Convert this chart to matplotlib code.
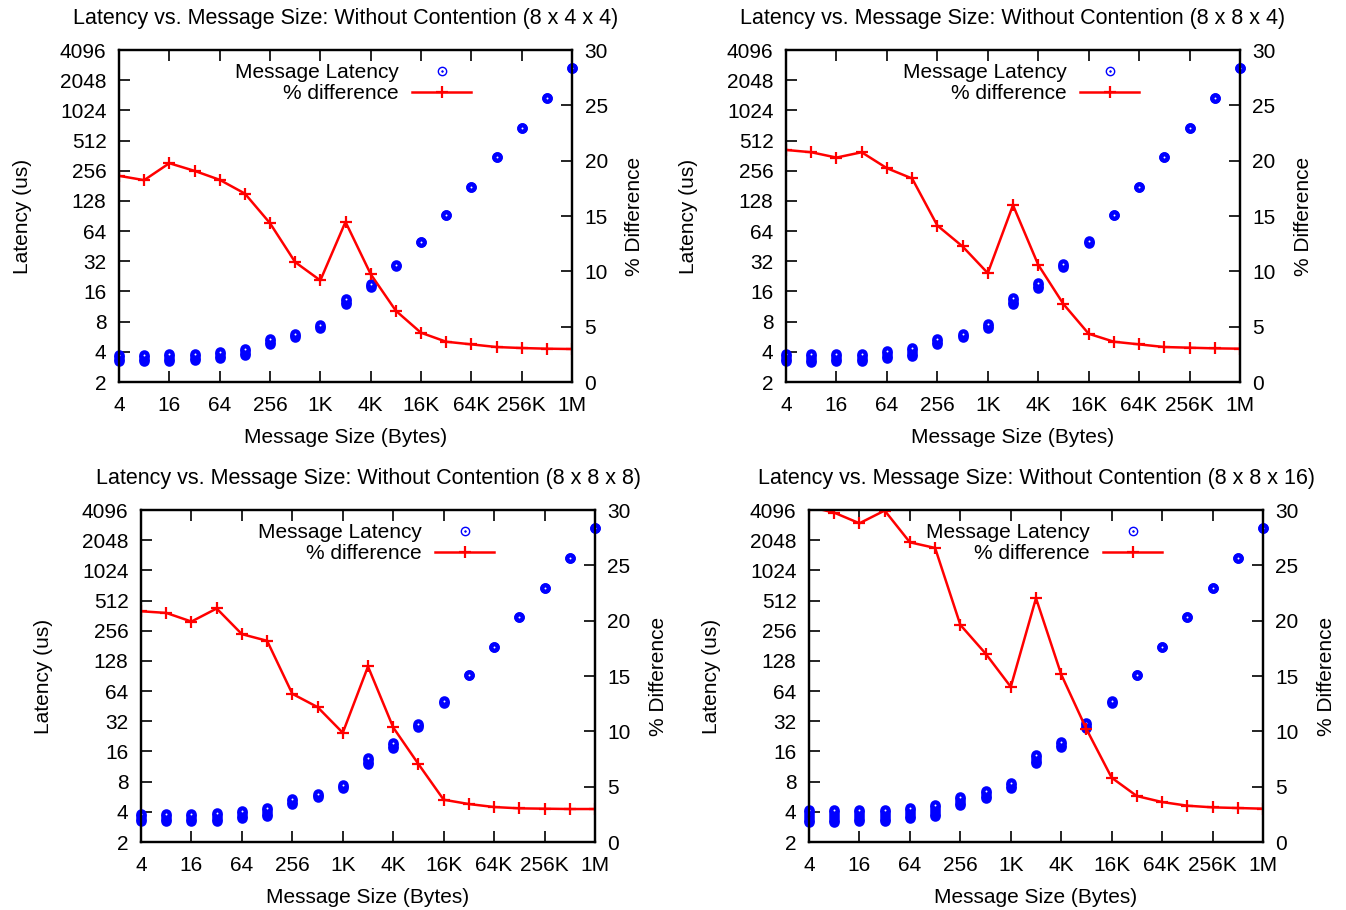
import matplotlib
matplotlib.use("Agg")
import matplotlib.pyplot as plt
from matplotlib.lines import Line2D

plt.rcParams['font.family'] = ['Liberation Sans', 'DejaVu Sans']

# ---------------- data ----------------
sizes = [4, 8, 16, 32, 64, 128, 256, 512, 1024, 2048, 4096, 8192, 16384,
         32768, 65536, 131072, 262144, 524288, 1048576]

xtick_vals = [4, 16, 64, 256, 1024, 4096, 16384, 65536, 262144, 1048576]
xtick_labels = ['4', '16', '64', '256', '1K', '4K', '16K', '64K', '256K', '1M']
ytick_vals = [2, 4, 8, 16, 32, 64, 128, 256, 512, 1024, 2048, 4096]
ytick_labels = [str(v) for v in ytick_vals]
pct_ticks = [0, 5, 10, 15, 20, 25, 30]

titles = ["Latency vs. Message Size: Without Contention (8 x 4 x 4)",
          "Latency vs. Message Size: Without Contention (8 x 8 x 4)",
          "Latency vs. Message Size: Without Contention (8 x 8 x 8)",
          "Latency vs. Message Size: Without Contention (8 x 8 x 16)"]

# latency runs: lowest and highest observed latency per message size (us)
lat_lo_1 = [3.26, 3.26, 3.26, 3.31, 3.49, 3.71, 4.74, 5.57, 6.92, 12.1, 17.6, 28.4, 50, 91.6, 178, 349, 688, 1369, 2730]
lat_hi_1 = [3.69, 3.69, 3.77, 3.83, 4.01, 4.28, 5.32, 6.08, 7.37, 13.6, 19.1, 29.3, 50, 91.6, 178, 349, 688, 1369, 2730]
lat_lo_2 = [3.22, 3.19, 3.24, 3.24, 3.44, 3.66, 4.74, 5.57, 6.85, 12.0, 17.5, 28.0, 49, 91.6, 178, 349, 688, 1369, 2730]
lat_hi_2 = [3.77, 3.77, 3.83, 3.83, 4.07, 4.33, 5.32, 6.08, 7.50, 13.9, 19.3, 29.9, 51, 91.6, 178, 349, 688, 1369, 2730]
lat_lo_3 = [3.24, 3.24, 3.24, 3.24, 3.44, 3.66, 4.74, 5.57, 6.92, 12.0, 17.5, 28.0, 49, 91.6, 178, 349, 688, 1369, 2730]
lat_hi_3 = [3.83, 3.83, 3.83, 3.89, 4.07, 4.33, 5.32, 6.08, 7.37, 13.9, 19.3, 29.9, 51, 91.6, 178, 349, 688, 1369, 2730]
lat_lo_4 = [3.19, 3.19, 3.24, 3.24, 3.44, 3.66, 4.68, 5.45, 6.96, 12.2, 17.8, 27.2, 49, 91.6, 178, 349, 688, 1369, 2730]
lat_hi_4 = [4.14, 4.14, 4.14, 4.20, 4.40, 4.68, 5.62, 6.45, 7.81, 14.7, 20.0, 31.0, 51, 91.6, 178, 349, 688, 1369, 2730]

# % difference
pct_1 = [18.63, 18.24, 19.77, 19.08, 18.27, 17.03, 14.35, 10.83, 9.18, 14.47, 9.75, 6.44, 4.45, 3.64, 3.40, 3.16, 3.07, 3.01, 2.98]
pct_2 = [20.97, 20.76, 20.28, 20.76, 19.32, 18.39, 14.14, 12.25, 9.84, 15.98, 10.59, 7.04, 4.36, 3.64, 3.40, 3.16, 3.10, 3.04, 3.01]
pct_3 = [20.85, 20.70, 19.92, 21.10, 18.78, 18.18, 13.39, 12.19, 9.87, 15.86, 10.35, 7.04, 3.82, 3.43, 3.16, 3.04, 3.01, 2.98, 2.98]
pct_4 = [30.31, 29.76, 28.80, 29.95, 27.08, 26.57, 19.62, 17.03, 14.02, 22.03, 15.14, 10.20, 5.81, 4.15, 3.61, 3.28, 3.13, 3.07, 3.01]

lat_lo = [lat_lo_1, lat_lo_2, lat_lo_3, lat_lo_4]
lat_hi = [lat_hi_1, lat_hi_2, lat_hi_3, lat_hi_4]
pcts = [pct_1, pct_2, pct_3, pct_4]

# ---------------- layout ----------------
W, H = 1346, 910
boxes = [(119, 572, 50, 382), (786, 1240, 50, 382),
         (141, 595, 510, 842), (809, 1263, 510, 842)]

fig = plt.figure(figsize=(W / 100, H / 100), dpi=100)
FS = 15
BLUE = '#0000ff'
RED = '#ff0000'
MS = 5.6
MEW = 2.0

for i, (l, r, t, b) in enumerate(boxes):
    ax = fig.add_axes([l / W, 1 - b / H, (r - l) / W, (b - t) / H])
    ax.set_xscale('log', base=2)
    ax.set_yscale('log', base=2)
    ax.set_xlim(4, 1048576)
    ax.set_ylim(2, 4096)
    ax.set_xticks(xtick_vals)
    ax.set_xticklabels(xtick_labels)
    ax.set_yticks(ytick_vals)
    ax.set_yticklabels(ytick_labels)
    ax.minorticks_off()
    ax.tick_params(axis='both', direction='in', length=8, width=1.2,
                   labelsize=FS, top=True, right=True)
    ax.tick_params(axis='y', pad=9)
    ax.tick_params(axis='x', pad=10)
    for s in ax.spines.values():
        s.set_linewidth(1.6)

    # latency points: the spread of runs for each size forms a capsule
    for x, lo, hi in zip(sizes, lat_lo[i], lat_hi[i]):
        ax.plot([x, x], [lo, hi], color=BLUE, linewidth=MS + MEW,
                solid_capstyle='butt', zorder=2, clip_on=False)
    ax.plot(sizes, lat_lo[i], linestyle='none', marker='o', ms=MS, mfc=BLUE,
            mec=BLUE, mew=MEW, zorder=3, clip_on=False)
    ax.plot(sizes, lat_hi[i], linestyle='none', marker='o', ms=MS, mfc=BLUE,
            mec=BLUE, mew=MEW, zorder=3, clip_on=False)
    ax.plot(sizes, lat_hi[i], linestyle='none', marker='o', ms=1.4, mfc='white',
            mec='white', mew=0, zorder=4, clip_on=False)

    ax.set_xlabel('Message Size (Bytes)', fontsize=FS)
    ax.xaxis.set_label_coords(0.5, -0.138)
    ax.set_ylabel('Latency (us)', fontsize=FS)
    ax.yaxis.set_label_coords(-0.193, 0.5)
    ax.text(0.5, 1.096, titles[i], transform=ax.transAxes, ha='center',
            va='center', fontsize=15.5)

    ax2 = ax.twinx()
    ax2.set_ylim(0, 30)
    ax2.set_yticks(pct_ticks)
    ax2.minorticks_off()
    ax2.tick_params(axis='y', direction='in', length=8, width=1.2,
                    labelsize=FS, pad=9)
    for s in ax2.spines.values():
        s.set_linewidth(1.6)
    ax2.plot(sizes, pcts[i], color=RED, linewidth=1.8, marker='+', ms=8,
             mew=1.6, clip_on=True)
    ax2.set_ylabel('% Difference', fontsize=FS)
    ax2.yaxis.set_label_coords(1.118, 0.5)

    # key
    ax2.text(0.618, 0.932, 'Message Latency', transform=ax2.transAxes,
             ha='right', va='center', fontsize=FS)
    ax2.text(0.618, 0.868, '% difference', transform=ax2.transAxes,
             ha='right', va='center', fontsize=FS)
    ax2.add_line(Line2D([0.713], [0.937], transform=ax2.transAxes,
                        linestyle='none', marker='o', ms=6, mfc='none',
                        mec=BLUE, mew=1.0))
    ax2.add_line(Line2D([0.713], [0.937], transform=ax2.transAxes,
                        linestyle='none', marker='o', ms=1.2, mfc=BLUE,
                        mec=BLUE, mew=0.5))
    ax2.add_line(Line2D([0.647, 0.777], [0.873, 0.873], transform=ax2.transAxes,
                        color=RED, linewidth=1.8))
    ax2.add_line(Line2D([0.713], [0.873], transform=ax2.transAxes,
                        linestyle='none', marker='+', ms=8, mew=1.6, color=RED))

fig.savefig('out.png', dpi=100)
